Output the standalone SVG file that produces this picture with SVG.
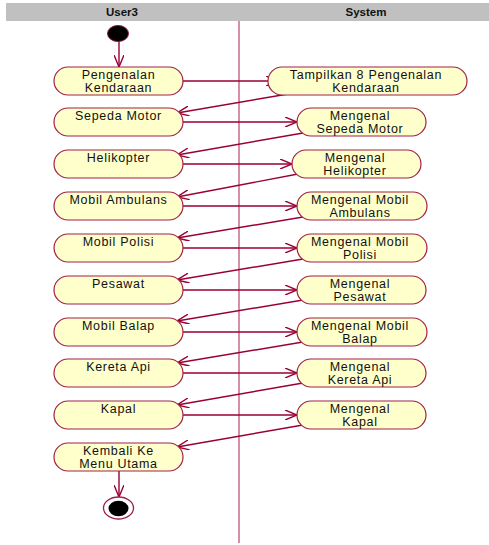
<svg xmlns="http://www.w3.org/2000/svg" width="489" height="545" viewBox="0 0 489 545">
  <style>
    .act rect { fill: #ffffcc; stroke: #a0204a; stroke-width: 1.2; }
    .act text { font-family: "Liberation Sans", Arial, sans-serif; font-size: 12.5px; fill: #111; text-anchor: middle; letter-spacing: 0.7px; }
    .lane { font-family: "Liberation Sans", Arial, sans-serif; font-size: 11.5px; font-weight: bold; fill: #111; text-anchor: middle; }
    .flow line { stroke: #990033; stroke-width: 1.4; fill: none; marker-end: url(#open); }
  </style>
  <defs>
    <marker id="open" viewBox="0 0 12 10" refX="12" refY="5" markerWidth="12" markerHeight="10" markerUnits="userSpaceOnUse" orient="auto">
      <path d="M0,0 L12,5 L0,10" fill="none" stroke="#990033" stroke-width="1.4"/>
    </marker>
  </defs>

  <rect width="489" height="545" fill="#ffffff"/>

  <!-- swimlane header and divider -->
  <g id="swimlanes">
    <rect x="6" y="3" width="483" height="18" fill="#c0c0c0"/>
    <text class="lane" x="122" y="16">User3</text>
    <text class="lane" x="366" y="16">System</text>
    <line x1="239" y1="21" x2="239" y2="543" stroke="#c86a8c" stroke-width="1.5"/>
  </g>

  <!-- control flow -->
  <g id="connectors" class="flow">
    <line x1="119" y1="41" x2="119" y2="67"/>
    <line x1="183" y1="81" x2="278" y2="81"/>
    <line x1="288" y1="94" x2="177" y2="113"/>
    <line x1="183" y1="122" x2="297" y2="122"/>
    <line x1="303" y1="133" x2="177" y2="155"/>
    <line x1="183" y1="164" x2="292" y2="164"/>
    <line x1="298" y1="174" x2="177" y2="197"/>
    <line x1="183" y1="206" x2="297" y2="206"/>
    <line x1="303" y1="217" x2="177" y2="238"/>
    <line x1="183" y1="248" x2="297" y2="248"/>
    <line x1="303" y1="259" x2="177" y2="280"/>
    <line x1="183" y1="290" x2="297" y2="290"/>
    <line x1="303" y1="300" x2="177" y2="321"/>
    <line x1="183" y1="332" x2="297" y2="332"/>
    <line x1="303" y1="342" x2="177" y2="363"/>
    <line x1="183" y1="373" x2="297" y2="373"/>
    <line x1="303" y1="383" x2="177" y2="405"/>
    <line x1="183" y1="415" x2="297" y2="415"/>
    <line x1="303" y1="425" x2="177" y2="447"/>
    <line x1="119" y1="471" x2="119" y2="497"/>
  </g>

  <!-- start / end -->
  <g id="start">
    <ellipse cx="118" cy="33.5" rx="10.5" ry="8" fill="#000" stroke="#8a1538" stroke-width="1"/>
  </g>
  <g id="end">
    <ellipse cx="118.5" cy="508" rx="15" ry="11" fill="#fff" stroke="#a0204a" stroke-width="1.3"/>
    <ellipse cx="118.5" cy="508.5" rx="10" ry="7.8" fill="#000"/>
  </g>

  <!-- User3 activities -->
  <g id="pengenalan" class="act"><rect x="54" y="67" width="129" height="28" rx="14"/><text x="118.5" y="79">Pengenalan</text><text x="118.5" y="92">Kendaraan</text></g>
  <g id="sepeda" class="act"><rect x="54" y="108" width="129" height="28" rx="14"/><text x="118.5" y="120">Sepeda Motor</text></g>
  <g id="helikopter" class="act"><rect x="54" y="150" width="129" height="28" rx="14"/><text x="118.5" y="162">Helikopter</text></g>
  <g id="ambulans" class="act"><rect x="54" y="192" width="129" height="28" rx="14"/><text x="118.5" y="204">Mobil Ambulans</text></g>
  <g id="polisi" class="act"><rect x="54" y="234" width="129" height="28" rx="14"/><text x="118.5" y="246">Mobil Polisi</text></g>
  <g id="pesawat" class="act"><rect x="54" y="276" width="129" height="28" rx="14"/><text x="118.5" y="288">Pesawat</text></g>
  <g id="balap" class="act"><rect x="54" y="318" width="129" height="28" rx="14"/><text x="118.5" y="330">Mobil Balap</text></g>
  <g id="kereta" class="act"><rect x="54" y="359" width="129" height="28" rx="14"/><text x="118.5" y="371">Kereta Api</text></g>
  <g id="kapal" class="act"><rect x="54" y="401" width="129" height="28" rx="14"/><text x="118.5" y="413">Kapal</text></g>
  <g id="kembali" class="act"><rect x="54" y="443" width="129" height="28" rx="14"/><text x="118.5" y="455">Kembali Ke</text><text x="118.5" y="468">Menu Utama</text></g>

  <!-- System activities -->
  <g id="tampilkan" class="act"><rect x="268" y="67" width="199" height="28" rx="14"/><text x="366" y="79">Tampilkan 8 Pengenalan</text><text x="366" y="92">Kendaraan</text></g>
  <g id="m-sepeda" class="act"><rect x="297" y="108" width="129" height="28" rx="14"/><text x="360" y="120">Mengenal</text><text x="360" y="133">Sepeda Motor</text></g>
  <g id="m-helikopter" class="act"><rect x="292" y="150" width="129" height="28" rx="14"/><text x="355" y="162">Mengenal</text><text x="355" y="175">Helikopter</text></g>
  <g id="m-ambulans" class="act"><rect x="297" y="192" width="130" height="28" rx="14"/><text x="360" y="204">Mengenal Mobil</text><text x="360" y="217">Ambulans</text></g>
  <g id="m-polisi" class="act"><rect x="297" y="234" width="130" height="28" rx="14"/><text x="360" y="246">Mengenal Mobil</text><text x="360" y="259">Polisi</text></g>
  <g id="m-pesawat" class="act"><rect x="297" y="276" width="129" height="28" rx="14"/><text x="360" y="288">Mengenal</text><text x="360" y="301">Pesawat</text></g>
  <g id="m-balap" class="act"><rect x="297" y="318" width="130" height="28" rx="14"/><text x="360" y="330">Mengenal Mobil</text><text x="360" y="343">Balap</text></g>
  <g id="m-kereta" class="act"><rect x="297" y="359" width="129" height="28" rx="14"/><text x="360" y="371">Mengenal</text><text x="360" y="384">Kereta Api</text></g>
  <g id="m-kapal" class="act"><rect x="297" y="401" width="129" height="28" rx="14"/><text x="360" y="413">Mengenal</text><text x="360" y="426">Kapal</text></g>
</svg>
